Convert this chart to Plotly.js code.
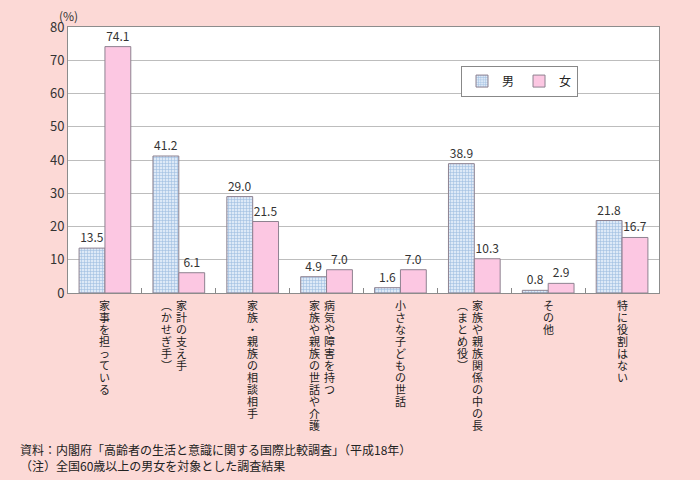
<!DOCTYPE html>
<html><head><meta charset="utf-8">
<script src="https://cdn.plot.ly/plotly-3.0.1.min.js"></script>
<style>html,body{margin:0;padding:0;background:#fcd9d6;}</style>
</head><body>
<div id="chart" style="width:700px;height:480px;"></div>
<script>
const categories = ["c1","c2","c3","c4","c5","c6","c7","c8"];
// vertical label columns per category, right column first
const labelColumns = [
  ["家事を担っている"],
  ["家計の支え手", "︵かせぎ手︶"],
  ["家族・親族の相談相手"],
  ["病気や障害を持つ", "家族や親族の世話や介護"],
  ["小さな子どもの世話"],
  ["家族や親族関係の中の長", "︵まとめ役︶"],
  ["その他"],
  ["特に役割はない"]
];
const maleValues = [13.5, 41.2, 29.0, 4.9, 1.6, 38.9, 0.8, 21.8];
const femaleValues = [74.1, 6.1, 21.5, 7.0, 7.0, 10.3, 2.9, 16.7];
const seriesNames = ["男", "女"];
const yTicks = [0,10,20,30,40,50,60,70,80];
const sourceNote = "資料：内閣府「高齢者の生活と意識に関する国際比較調査」（平成18年）";
const note = "（注）全国60歳以上の男女を対象とした調査結果";

const FONT = "'Noto Sans CJK JP', 'Noto Sans', sans-serif";
const border = "#8e8290";

const traces = [
  {type:"bar", name:seriesNames[0], x:categories, y:maleValues,
   marker:{color:"#d6e6f7", line:{color:border, width:1},
     pattern:{shape:"+", fgcolor:"#9dbde0", bgcolor:"#dde9f7", size:3, solidity:0.35}},
   texttemplate:"%{y:.1f}", textposition:"outside", cliponaxis:false,
   textfont:{size:12, color:"#333", family:FONT}},
  {type:"bar", name:seriesNames[1], x:categories, y:femaleValues,
   marker:{color:"#fcc7e2", line:{color:border, width:1}},
   texttemplate:"%{y:.1f}", textposition:"outside", cliponaxis:false,
   textfont:{size:12, color:"#333", family:FONT}}
];

const annotations = [];
labelColumns.forEach((cols, ci) => {
  cols.forEach((col, k) => {
    const xs = cols.length === 1 ? 0 : (k === 0 ? 3 : -12);
    Array.from(col).forEach((ch, i) => {
      annotations.push({xref:"x", yref:"paper", x:categories[ci], y:0,
        xshift:xs, yshift:-12 - i*12, text:ch, showarrow:false,
        xanchor:"center", yanchor:"middle",
        font:{size:11, color:"#222", family:FONT}});
    });
  });
});
annotations.push({xref:"paper", yref:"paper", x:0, y:1.045, xanchor:"center", yanchor:"middle",
  text:"(%)", showarrow:false, font:{size:12, color:"#333", family:FONT}});
annotations.push({xref:"paper", yref:"paper", x:-0.085, y:-0.59, xanchor:"left", yanchor:"middle",
  text:sourceNote, showarrow:false, font:{size:12, color:"#222", family:FONT}});
annotations.push({xref:"paper", yref:"paper", x:-0.085, y:-0.65, xanchor:"left", yanchor:"middle",
  text:note, showarrow:false, font:{size:12, color:"#222", family:FONT}});

const layout = {
  width:700, height:480,
  paper_bgcolor:"#fcd9d6", plot_bgcolor:"#ffffff",
  margin:{l:68, r:41, t:27, b:187},
  font:{family:FONT, color:"#333"},
  barmode:"group", bargap:0.3, bargroupgap:0,
  showlegend:true,
  legend:{orientation:"h", x:0.665, y:0.855, xanchor:"left", yanchor:"top",
    bgcolor:"#ffffff", bordercolor:"#888", borderwidth:1,
    font:{size:12, family:FONT, color:"#222"}},
  xaxis:{type:"category", showticklabels:false, ticks:"inside", tickson:"boundaries",
    ticklen:5, tickcolor:"#888", showline:true, linecolor:"#8c8c8c", mirror:true,
    showgrid:false, fixedrange:true},
  yaxis:{range:[0,80], tickvals:yTicks, ticks:"", showline:true, linecolor:"#8c8c8c",
    mirror:true, gridcolor:"#bdbdbd", zeroline:false,
    tickfont:{size:13, color:"#333", family:FONT}},
  annotations:annotations
};
Plotly.newPlot("chart", traces, layout, {displayModeBar:false, staticPlot:true});
</script>
</body></html>
